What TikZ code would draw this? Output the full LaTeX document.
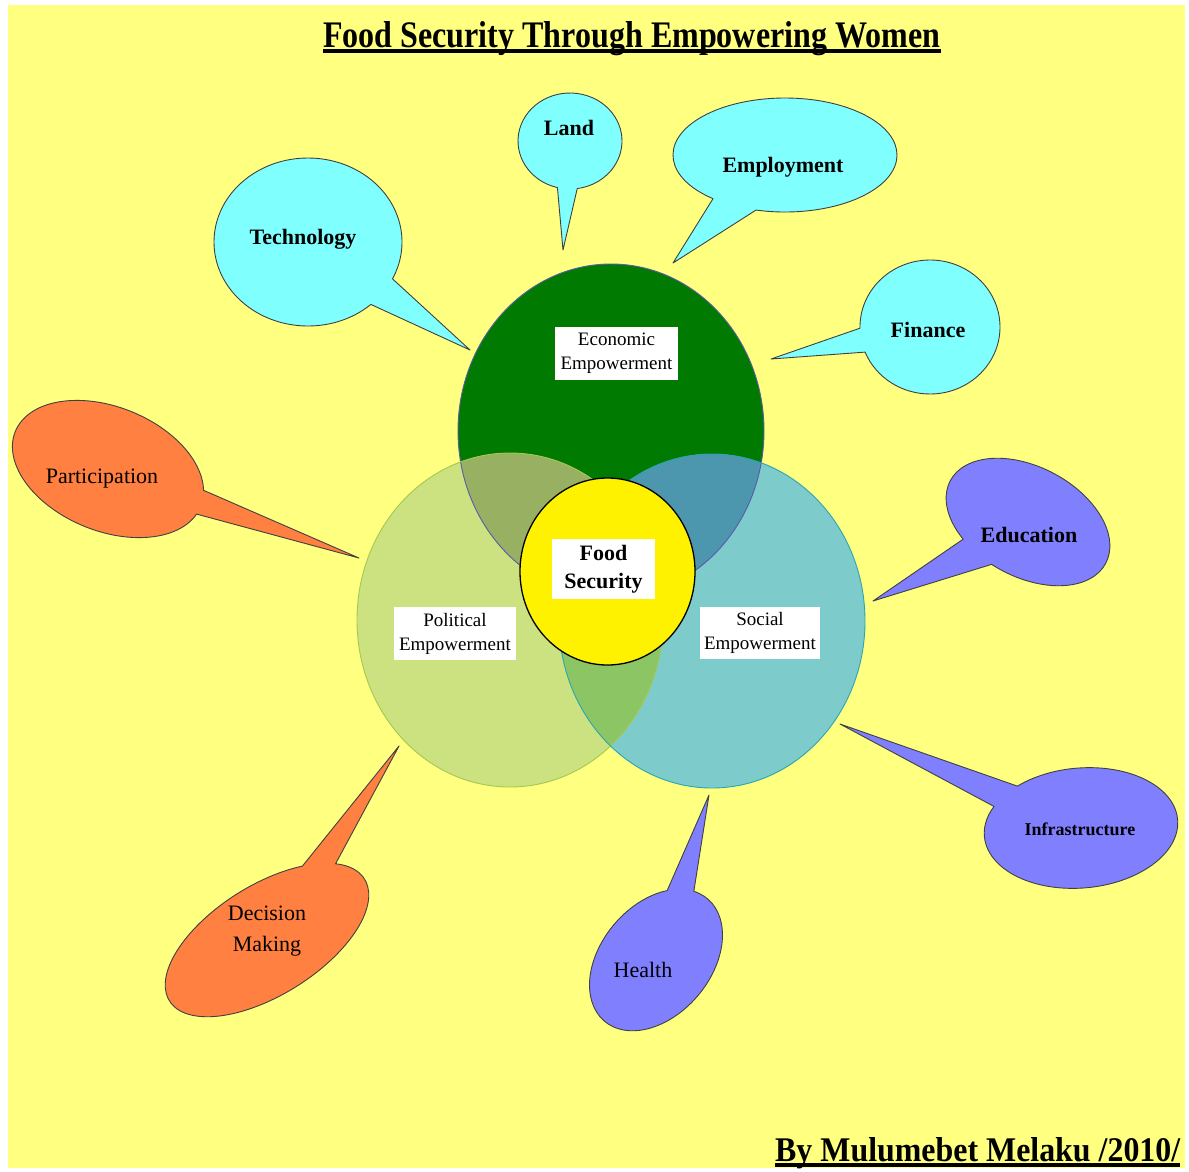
\documentclass[tikz,border=0pt]{standalone}
\usepackage{fontspec}
\setmainfont{Liberation Serif}
\definecolor{bgyellow}{RGB}{255,255,128}
\definecolor{econgreen}{RGB}{0,122,0}
\definecolor{polgreen}{RGB}{204,226,128}
\definecolor{socteal}{RGB}{126,203,204}
\definecolor{pecol}{RGB}{152,176,98}
\definecolor{secol}{RGB}{76,150,174}
\definecolor{pscol}{RGB}{140,197,100}
\definecolor{psecol}{RGB}{90,150,110}
\definecolor{cyanb}{RGB}{128,255,255}
\definecolor{orangeb}{RGB}{255,128,64}
\definecolor{blueb}{RGB}{128,128,255}
\definecolor{econline}{RGB}{90,90,170}
\definecolor{polline}{RGB}{164,200,80}
\definecolor{socline}{RGB}{42,165,181}
\newcommand{\balloon}[8]{%
  \begin{scope}[shift={(#2)}, rotate=#3]
    \draw[#1] (#8) -- (#7:#4 and #5) arc[start angle=#7, end angle={#6+360}, x radius=#4, y radius=#5] -- cycle;
  \end{scope}}
\begin{document}
\begin{tikzpicture}[x=1pt,y=-1pt,
  bal/.style={draw=black!75, line width=0.9pt, line join=round},
  boldlbl/.style={font=\fontsize{22}{26}\selectfont\bfseries, inner sep=0, align=center},
  reglbl/.style={font=\fontsize{22}{31}\selectfont, inner sep=0, align=center},
  whitebox/.style={fill=white, inner sep=0, align=center, font=\fontsize{19}{24}\selectfont}]
\useasboundingbox (0,0) rectangle (1189,1171);
\fill[white] (0,0) rectangle (1189,1171);
\fill[bgyellow] (8,5) rectangle (1185,1168);

% title
\node[anchor=base west, inner sep=0] (title) at (323,47) {\resizebox{617pt}{26pt}{\bfseries Food Security Through Empowering Women}};
\fill ([yshift=-2pt]title.base west) rectangle ([yshift=-6pt]title.base east);

% signature
\node[anchor=base west, inner sep=0] (sig) at (775,1161) {\resizebox{405pt}{24pt}{\bfseries By Mulumebet Melaku /2010/}};
\fill ([yshift=-2pt]sig.base west) rectangle ([yshift=-6pt]sig.base east);

% balloon tips
\coordinate (tTech) at (470,350);
\coordinate (tLand) at (563,250);
\coordinate (tEmp) at (673,263);
\coordinate (tFin) at (771,359);
\coordinate (tPart) at (359,558);
\coordinate (tDec) at (399,746);
\coordinate (tHealth) at (709,795);
\coordinate (tEdu) at (873,601);
\coordinate (tInfra) at (840,724);

% balloons
\balloon{bal,fill=cyanb}{308,242}{0}{94}{84}{26}{48}{tTech}
\balloon{bal,fill=cyanb}{570,141}{0}{52}{48}{82}{104}{tLand}
\balloon{bal,fill=cyanb}{785,155}{0}{112}{57}{105}{130}{tEmp}
\balloon{bal,fill=cyanb}{930,327}{0}{70}{67}{158}{179}{tFin}
\balloon{bal,fill=orangeb}{108,469}{-22}{100}{62}{-15}{8}{tPart}
\balloon{bal,fill=orangeb}{267,940}{32}{115}{55}{-53}{-31}{tDec}
\balloon{bal,fill=blueb}{656,960}{50}{80}{55}{-41}{-16}{tHealth}
\balloon{bal,fill=blueb}{1028,522}{-28}{88}{55}{98}{124}{tEdu}
\balloon{bal,fill=blueb}{1081,828}{5}{97}{60}{209}{232}{tInfra}

% balloon texts
\node[boldlbl] (tech) at (303,239) {Technology};
\node[boldlbl] (land) at (569,128) {Land};
\node[boldlbl] (emp) at (783,167) {Employment};
\node[boldlbl] (fin) at (928,330) {Finance};
\node[boldlbl] (edu) at (1029,535) {Education};
\node[boldlbl, font=\fontsize{18}{22}\selectfont\bfseries] (infra) at (1080,829) {Infrastructure};
\node[reglbl] (part) at (102,479) {Participation};
\node[reglbl] (dec) at (267,931) {Decision\\Making};
\node[reglbl] (health) at (643,970) {Health};

% Venn circles
\fill[econgreen] (611,431) ellipse [x radius=153, y radius=167];
\fill[polgreen] (510,620) ellipse [x radius=153, y radius=167];
\fill[socteal] (712,621) ellipse [x radius=153, y radius=167];
\begin{scope}
  \clip (611,431) ellipse [x radius=153, y radius=167];
  \fill[pecol] (510,620) ellipse [x radius=153, y radius=167];
  \fill[secol] (712,621) ellipse [x radius=153, y radius=167];
\end{scope}
\begin{scope}
  \clip (510,620) ellipse [x radius=153, y radius=167];
  \fill[pscol] (712,621) ellipse [x radius=153, y radius=167];
  \clip (611,431) ellipse [x radius=153, y radius=167];
  \fill[psecol] (712,621) ellipse [x radius=153, y radius=167];
\end{scope}
\draw[econline, line width=0.9pt] (611,431) ellipse [x radius=153, y radius=167];
\draw[polline, line width=0.9pt] (510,620) ellipse [x radius=153, y radius=167];
\draw[socline, line width=0.9pt] (712,621) ellipse [x radius=153, y radius=167];

% Food security circle
\filldraw[fill=yellow, draw=black, line width=1.3pt] (607.5,571.5) ellipse [x radius=87.5, y radius=93.5];

% labels
\node[whitebox, minimum width=123pt, minimum height=53pt] (econlbl) at (616.5,353.5) {Economic\\Empowerment};
\node[whitebox, font=\fontsize{22}{28}\selectfont\bfseries, minimum width=103pt, minimum height=60pt] (foodlbl) at (603.5,569) {Food\\Security};
\node[whitebox, minimum width=122pt, minimum height=53pt] (pollbl) at (455,633.5) {Political\\Empowerment};
\node[whitebox, minimum width=120pt, minimum height=52pt] (soclbl) at (760,633) {Social\\Empowerment};
\end{tikzpicture}
\end{document}
